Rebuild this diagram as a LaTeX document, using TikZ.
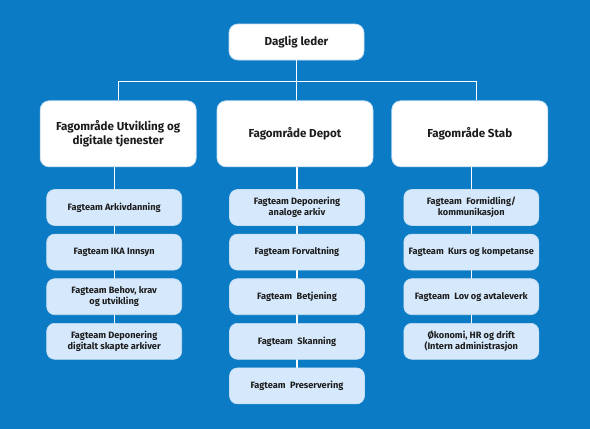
\documentclass[tikz,border=0pt]{standalone}
\usepackage{fontspec}
\setsansfont{Fira Sans}
\usetikzlibrary{positioning,backgrounds}
\definecolor{orgblue}{HTML}{0A7BC4}
\definecolor{teamfill}{HTML}{D6E9FC}
\definecolor{boxedge}{HTML}{C4DDF2}
\definecolor{inktext}{HTML}{1C1C1C}

\begin{document}
\begin{tikzpicture}[
  x=1pt, y=-1pt,
  lead/.style={
    draw=boxedge,
    fill=white,
    rounded corners=9pt,
    line width=0.8pt,
    minimum width=135pt,
    minimum height=36pt,
    align=center,
    text=inktext,
    font=\sffamily\bfseries\fontsize{11.6}{14}\selectfont
  },
  area/.style={lead, minimum width=156pt, minimum height=66pt},
  team/.style={
    draw=boxedge,
    fill=teamfill,
    rounded corners=8pt,
    line width=0.6pt,
    minimum width=135pt,
    minimum height=36pt,
    inner sep=2pt,
    align=center,
    text=inktext,
    font=\sffamily\bfseries\fontsize{9.2}{11}\selectfont
  },
  link/.style={draw=white, line width=1.2pt}
]

  \useasboundingbox (0,0) rectangle (590,429);

  % Top: management
  \node[lead] (leder) at (296.5,42) {Daglig leder};

  % --- Fagområder ---
  \node[area, below=40pt of leder, xshift=-1.5pt] (depot) {Fagområde Depot};
  \node[area, left=20pt of depot] (utv) {Fagområde Utvikling og\\digitale tjenester};
  \node[area, right=18pt of depot] (stab) {Fagområde Stab};

  % --- Fagteam, left column ---
  \node[team, below=22pt of utv, xshift=-4pt] (u1) {Fagteam Arkivdanning};
  \node[team, below=8pt of u1] (u2) {Fagteam IKA Innsyn};
  \node[team, below=8pt of u2] (u3) {Fagteam Behov, krav\\og utvikling};
  \node[team, below=8pt of u3] (u4) {Fagteam Deponering\\digitalt skapte arkiver};

  % --- Fagteam, middle column ---
  \node[team, below=22pt of depot, xshift=2pt] (d1) {Fagteam Deponering\\analoge arkiv};
  \node[team, below=8pt of d1] (d2) {Fagteam Forvaltning};
  \node[team, below=8pt of d2] (d3) {Fagteam\ \ Betjening};
  \node[team, below=8pt of d3] (d4) {Fagteam\ \ Skanning};
  \node[team, below=8pt of d4] (d5) {Fagteam\ \ Preservering};

  % --- Fagteam, right column ---
  \node[team, below=22pt of stab, xshift=1.5pt] (s1) {Fagteam\ \ Formidling/\\kommunikasjon};
  \node[team, below=8pt of s1] (s2) {Fagteam\ \ Kurs og kompetanse};
  \node[team, below=8pt of s2] (s3) {Fagteam\ \ Lov og avtaleverk};
  \node[team, below=8pt of s3] (s4) {Økonomi, HR og drift\\(Intern administrasjon};

  % Background and connecting lines behind the boxes
  \begin{scope}[on background layer]
    \fill[orgblue] (0,0) rectangle (590,429);
    \draw[link] (leder.south) -- (leder.south |- depot.north);
    \draw[link] (utv.north) -- ++(0,-19) -| ([xshift=7pt]stab.north);
    \draw[link] (u1.north |- utv.south) -- (u4.center);
    \draw[link] (d1.north |- depot.south) -- (d5.center);
    \draw[link] (s1.north |- stab.south) -- (s4.center);
  \end{scope}

\end{tikzpicture}
\end{document}
